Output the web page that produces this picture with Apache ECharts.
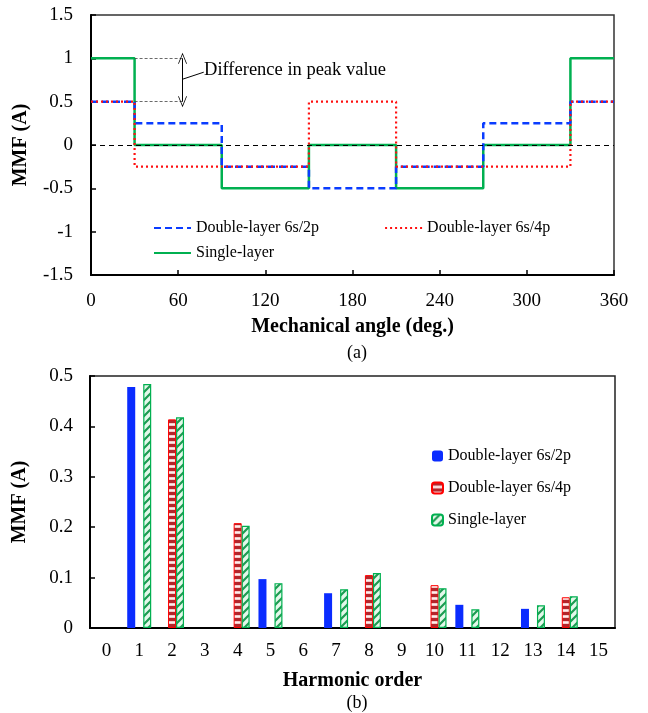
<!DOCTYPE html>
<html>
<head>
<meta charset="utf-8">
<script src="https://cdn.jsdelivr.net/npm/echarts@6/dist/echarts.min.js"></script>
<style>
  html, body { margin: 0; padding: 0; background: #fff; }
  #chart { width: 648px; height: 713px; }
</style>
</head>
<body>
<div id="chart"></div>
<script>
// ---- (a) MMF waveforms: breakpoints in mechanical degrees, value holds until next breakpoint
const angleBreaks     = [0, 30, 90, 150, 210, 270, 330, 360];
const mmfDouble2p     = [0.5, 0.25, -0.25, -0.5, -0.25, 0.25, 0.5, 0.5];
const mmfDouble4p     = [0.5, -0.25, -0.25, 0.5, -0.25, -0.25, 0.5, 0.5];
const mmfSingle       = [1, 0, -0.5, 0, -0.5, 0, 1, 1];
const angleTicks      = [0, 60, 120, 180, 240, 300, 360];

// ---- (b) harmonic spectra (null = no component)
const harmonicOrders  = ['0','1','2','3','4','5','6','7','8','9','10','11','12','13','14','15'];
const harmDouble2p    = [null, 0.478, null, null, null, 0.097, null, 0.069, null, null, null, 0.046, null, 0.038, null, null];
const harmDouble4p    = [null, null, 0.414, null, 0.208, null, null, null, 0.105, null, 0.085, null, null, null, 0.061, null];
const harmSingle      = [null, 0.484, 0.418, null, 0.203, 0.089, null, 0.077, 0.109, null, 0.079, 0.037, null, 0.045, 0.063, null];

const seriesNames = ['Double-layer 6s/2p', 'Double-layer 6s/4p', 'Single-layer'];
const FONT = '"Liberation Serif", "Times New Roman", serif';

function toPairs(xs, ys) { return xs.map((x, i) => [x, ys[i]]); }

// hatch fills for the bar series
function stripePattern() {
  const c = document.createElement('canvas');
  c.width = 8; c.height = 6;
  const g = c.getContext('2d');
  g.fillStyle = '#f6c9c9'; g.fillRect(0, 0, 8, 6);
  g.fillStyle = '#fdeeee'; g.fillRect(0, 4, 8, 1);
  g.fillStyle = '#b3262b'; g.fillRect(0, 0, 8, 3);
  return c;
}
function diagPattern() {
  const c = document.createElement('canvas');
  c.width = 8; c.height = 8;
  const g = c.getContext('2d');
  g.fillStyle = '#e3f8ea'; g.fillRect(0, 0, 8, 8);
  g.strokeStyle = '#1e9a52'; g.lineWidth = 2.2;
  g.beginPath();
  g.moveTo(-2, 10); g.lineTo(10, -2);
  g.moveTo(-2, 2); g.lineTo(2, -2);
  g.moveTo(6, 10); g.lineTo(10, 6);
  g.stroke();
  return c;
}

const chevron = 'path://M0,0 L5,10 L4.1,10 L0,1.8 L-4.1,10 L-5,10 Z';
const annGrey = '#444';

const chart = echarts.init(document.getElementById('chart'), null, { renderer: 'canvas' });

const axisLabelStyle = { color: '#000', fontFamily: FONT, fontSize: 19 };
const axisNameStyle = { color: '#000', fontFamily: FONT, fontSize: 20, fontWeight: 'bold' };
const legendText = { fontFamily: FONT, fontSize: 16, color: '#000' };

chart.setOption({
  backgroundColor: '#fff',
  animation: false,
  title: [
    { text: '(a)', left: 352, top: 339, textAlign: 'center',
      textStyle: { fontFamily: FONT, fontSize: 18, fontWeight: 'normal', color: '#000' } },
    { text: '(b)', left: 352, top: 689, textAlign: 'center',
      textStyle: { fontFamily: FONT, fontSize: 18, fontWeight: 'normal', color: '#000' } }
  ],
  grid: [
    { left: 91, top: 15, width: 523, height: 260, show: true, borderColor: '#333', borderWidth: 1.5 },
    { left: 90, top: 376, width: 525, height: 252, show: true, borderColor: '#222', borderWidth: 1.5 }
  ],
  legend: [
    { data: [seriesNames[0], seriesNames[1]], left: 148, top: 215, itemWidth: 37, itemHeight: 12,
      itemGap: 65, itemStyle: { opacity: 0 }, textStyle: legendText },
    { data: [seriesNames[2]], left: 148, top: 240, itemWidth: 37, itemHeight: 12,
      itemStyle: { opacity: 0 }, textStyle: legendText },
    { data: ['bar2p', 'bar4p', 'barSingle'], orient: 'vertical', left: 426, top: 443,
      itemWidth: 11, itemHeight: 11, itemGap: 16,
      formatter: n => ({ bar2p: seriesNames[0], bar4p: seriesNames[1], barSingle: seriesNames[2] })[n],
      textStyle: legendText }
  ],
  xAxis: [
    { type: 'value', gridIndex: 0, min: angleTicks[0], max: angleTicks[angleTicks.length - 1], interval: 60,
      name: 'Mechanical angle (deg.)', nameLocation: 'middle', nameGap: 42, nameTextStyle: axisNameStyle,
      axisLine: { onZero: false, lineStyle: { color: '#000', width: 2 } },
      axisTick: { inside: true, length: 5, lineStyle: { color: '#000', width: 1.5 } },
      axisLabel: Object.assign({ margin: 17 }, axisLabelStyle),
      splitLine: { show: false } },
    { type: 'category', gridIndex: 1, data: harmonicOrders,
      name: 'Harmonic order', nameLocation: 'middle', nameGap: 43, nameTextStyle: axisNameStyle,
      axisLine: { onZero: false, lineStyle: { color: '#000', width: 2 } },
      axisTick: { inside: true, length: 5, alignWithLabel: false, lineStyle: { color: '#000', width: 1.5 } },
      axisLabel: Object.assign({ margin: 14, interval: 0 }, axisLabelStyle),
      splitLine: { show: false } }
  ],
  yAxis: [
    { type: 'value', gridIndex: 0, min: -1.5, max: 1.5, interval: 0.5,
      name: 'MMF (A)', nameLocation: 'middle', nameGap: 60, nameTextStyle: axisNameStyle,
      axisLine: { show: true, onZero: false, lineStyle: { color: '#000', width: 2 } },
      axisTick: { show: true, inside: true, length: 5, lineStyle: { color: '#000', width: 1.5 } },
      axisLabel: Object.assign({ margin: 18 }, axisLabelStyle),
      splitLine: { show: false } },
    { type: 'value', gridIndex: 1, min: 0, max: 0.5, interval: 0.1,
      name: 'MMF (A)', nameLocation: 'middle', nameGap: 60, nameTextStyle: axisNameStyle,
      axisLine: { show: true, onZero: false, lineStyle: { color: '#000', width: 2 } },
      axisTick: { show: true, inside: true, length: 5, lineStyle: { color: '#000', width: 1.5 } },
      axisLabel: Object.assign({ margin: 17 }, axisLabelStyle),
      splitLine: { show: false } }
  ],
  series: [
    { name: seriesNames[0], type: 'line', xAxisIndex: 0, yAxisIndex: 0, step: 'end',
      data: toPairs(angleBreaks, mmfDouble2p), showSymbol: false, symbol: 'none',
      lineStyle: { color: '#0a3cff', width: 2.5, type: [7, 4] }, itemStyle: { color: '#0a3cff' }, z: 3 },
    { name: seriesNames[1], type: 'line', xAxisIndex: 0, yAxisIndex: 0, step: 'end',
      data: toPairs(angleBreaks, mmfDouble4p), showSymbol: false, symbol: 'none',
      lineStyle: { color: '#ff1010', width: 2.2, type: [2, 3] }, itemStyle: { color: '#ff1010' }, z: 4 },
    { name: seriesNames[2], type: 'line', xAxisIndex: 0, yAxisIndex: 0, step: 'end',
      data: toPairs(angleBreaks, mmfSingle), showSymbol: false, symbol: 'none',
      lineStyle: { color: '#00b050', width: 2.5 }, itemStyle: { color: '#00b050' }, z: 2,
      markLine: {
        silent: true, symbol: 'none', animation: false, label: { show: false }, z: 5,
        data: [
          { yAxis: 0, lineStyle: { color: '#000', width: 1, type: [5, 4] } },
          [{ coord: [30, 1], lineStyle: { color: annGrey, width: 0.8, type: [3, 2] } }, { coord: [63, 1] }],
          [{ coord: [30, 0.5], lineStyle: { color: annGrey, width: 0.8, type: [3, 2] } }, { coord: [63, 0.5] }],
          [{ coord: [63, 1], symbol: chevron, symbolSize: [9, 11], lineStyle: { color: '#000', width: 1, type: 'solid' } },
           { coord: [63, 0.5], symbol: chevron, symbolSize: [9, 11] }],
          [{ coord: [63.2, 0.76], lineStyle: { color: '#000', width: 1, type: 'solid' } }, { coord: [77.6, 0.84] }]
        ]
      },
      markPoint: {
        silent: true, animation: false,
        data: [{ coord: [77.8, 0.865], symbol: 'circle', symbolSize: 0,
          label: { show: true, position: 'right', distance: 0, formatter: 'Difference in peak value',
            color: '#000', fontFamily: FONT, fontSize: 18.5 } }]
      } },
    { name: 'bar2p', type: 'bar', xAxisIndex: 1, yAxisIndex: 1, data: harmDouble2p,
      barWidth: 8, barGap: '0%', itemStyle: { color: '#0a2cff' } },
    { name: 'bar4p', type: 'bar', xAxisIndex: 1, yAxisIndex: 1, data: harmDouble4p,
      barWidth: 8, barGap: '0%',
      itemStyle: { color: { image: stripePattern(), repeat: 'repeat' }, borderColor: '#ff0000', borderWidth: 1 } },
    { name: 'barSingle', type: 'bar', xAxisIndex: 1, yAxisIndex: 1, data: harmSingle,
      barWidth: 8, barGap: '0%',
      itemStyle: { color: { image: diagPattern(), repeat: 'repeat' }, borderColor: '#00b050', borderWidth: 1.2 } }
  ]
});
</script>
</body>
</html>
